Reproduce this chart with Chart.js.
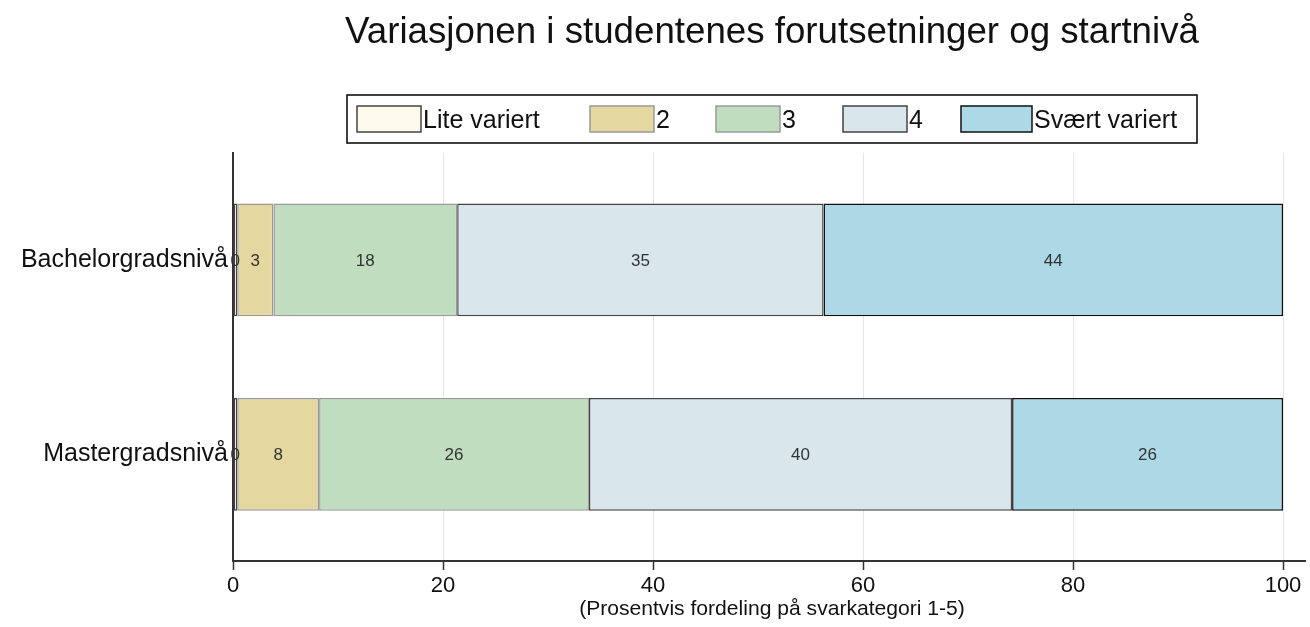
<!DOCTYPE html>
<html>
<head>
<meta charset="utf-8">
<script src="https://cdn.jsdelivr.net/npm/chart.js@4.4.0/dist/chart.umd.min.js"></script>
<style>
  html, body { margin: 0; padding: 0; background: #fff; }
  #wrap { width: 1310px; height: 627px; }
</style>
</head>
<body>
<div id="wrap"><canvas id="barChart" width="1310" height="627"></canvas></div>
<script>
// Data
const kategorier = ['Bachelorgradsnivå', 'Mastergradsnivå'];
const serieNavn = ['Lite variert', '2', '3', '4', 'Svært variert'];
const liteVariert = [0.4, 0.4];
const verdi2 = [3.45, 7.8];
const verdi3 = [17.5, 25.7];
const verdi4 = [34.9, 40.3];
const sværtVariert = [43.75, 25.8];
const xTicks = [0, 20, 40, 60, 80, 100];

const fyll = ['#FFF9EC', '#E4D8A0', '#C1DDBF', '#D9E6EC', '#ADD8E6'];
const kant = ['#444444', '#9A9A9A', '#9A9A9A', '#444444', '#111111'];
const serier = [liteVariert, verdi2, verdi3, verdi4, sværtVariert];

const FONT = 'Liberation Sans, Arial, sans-serif';

// skriv tekst slik at den fyller en gitt bredde (skalerer fontstørrelsen)
function tekstMedBredde(ctx, tekst, midtX, y, bredde, basisStr) {
    ctx.font = basisStr + 'px ' + FONT;
    const str = basisStr * bredde / ctx.measureText(tekst).width;
    ctx.font = str.toFixed(1) + 'px ' + FONT;
    ctx.textAlign = 'center';
    ctx.fillText(tekst, midtX, y);
}

// Tittel, legende og verdier tegnes selv
const egenTegning = {
    id: 'egenTegning',
    afterDatasetsDraw(chart) {
        const ctx = chart.ctx;
        // verdier i hvert segment
        ctx.save();
        ctx.font = '17px ' + FONT;
        ctx.fillStyle = '#333';
        ctx.textAlign = 'center';
        ctx.textBaseline = 'middle';
        chart.data.datasets.forEach(function(ds, i) {
            chart.getDatasetMeta(i).data.forEach(function(bar, j) {
                const midt = (bar.x + bar.base) / 2;
                ctx.fillText(Math.round(ds.data[j]), midt, bar.y + 1);
            });
        });
        ctx.restore();
    },
    afterDraw(chart) {
        const ctx = chart.ctx;
        const area = chart.chartArea;
        ctx.save();
        // x-aksen går litt forbi 100
        ctx.strokeStyle = '#333';
        ctx.lineWidth = 2;
        ctx.beginPath();
        ctx.moveTo(area.right, area.bottom);
        ctx.lineTo(1306, area.bottom);
        ctx.stroke();

        // tittel og aksetittel
        ctx.fillStyle = '#111';
        ctx.textBaseline = 'alphabetic';
        tekstMedBredde(ctx, 'Variasjonen i studentenes forutsetninger og startnivå', 772, 43, 855, 32);
        tekstMedBredde(ctx, '(Prosentvis fordeling på svarkategori 1-5)', 772, 615, 385, 17);

        // legende
        ctx.strokeStyle = '#000';
        ctx.lineWidth = 1.5;
        ctx.strokeRect(347, 95, 850, 48);
        const startX = [357, 590, 716, 843, 961];
        const bredde = [64, 64, 64, 64, 71];
        ctx.font = '25px ' + FONT;
        ctx.textAlign = 'left';
        ctx.textBaseline = 'middle';
        serieNavn.forEach(function(navn, i) {
            ctx.fillStyle = fyll[i];
            ctx.fillRect(startX[i], 106, bredde[i], 26);
            ctx.strokeStyle = kant[i];
            ctx.lineWidth = 1.5;
            ctx.strokeRect(startX[i], 106, bredde[i], 26);
            ctx.fillStyle = '#111';
            ctx.fillText(navn, startX[i] + bredde[i] + 2, 121);
        });
        ctx.restore();
    }
};

const ctx = document.getElementById('barChart').getContext('2d');
const barChart = new Chart(ctx, {
    type: 'bar',
    data: {
        // kategoriene ligger på en lineær akse (indeks 0 og 1) for å styre plasseringen
        labels: kategorier.map(function(k, i) { return i; }),
        datasets: serier.map(function(d, i) {
            return {
                label: serieNavn[i],
                data: d,
                backgroundColor: fyll[i],
                borderColor: kant[i],
                borderWidth: 1.5,
                borderSkipped: false,
                categoryPercentage: 1,
                barPercentage: 0.58
            };
        })
    },
    options: {
        indexAxis: 'y',
        responsive: false,
        animation: false,
        layout: { padding: { top: 153, right: 27, bottom: 0, left: 0 } },
        plugins: {
            legend: { display: false },
            title: { display: false },
            tooltip: { enabled: false }
        },
        scales: {
            x: {
                stacked: true,
                min: 0,
                max: 100,
                afterBuildTicks: function(scale) {
                    scale.ticks = xTicks.map(function(v) { return { value: v }; });
                },
                afterFit: function(scale) { scale.height = 66; },
                grid: {
                    color: '#E6E6E6',
                    lineWidth: 1,
                    tickLength: 9,
                    tickColor: '#333',
                    tickWidth: 1.5
                },
                border: { color: '#333', width: 2 },
                ticks: {
                    padding: 3,
                    color: '#111',
                    font: { family: FONT, size: 22 },
                    maxRotation: 0
                }
            },
            y: {
                type: 'linear',
                stacked: true,
                reverse: true,
                offset: false,
                bounds: 'data',
                min: -0.55,
                max: 1.548,
                afterBuildTicks: function(scale) {
                    scale.ticks = kategorier.map(function(k, i) { return { value: i }; });
                },
                afterFit: function(scale) { scale.width = 233; },
                grid: { display: false, drawTicks: false, offset: false },
                border: { color: '#333', width: 2 },
                ticks: {
                    padding: 5,
                    color: '#111',
                    font: { family: FONT, size: 25 },
                    callback: function(v) { return kategorier[v]; }
                }
            }
        }
    },
    plugins: [egenTegning]
});
</script>
</body>
</html>
